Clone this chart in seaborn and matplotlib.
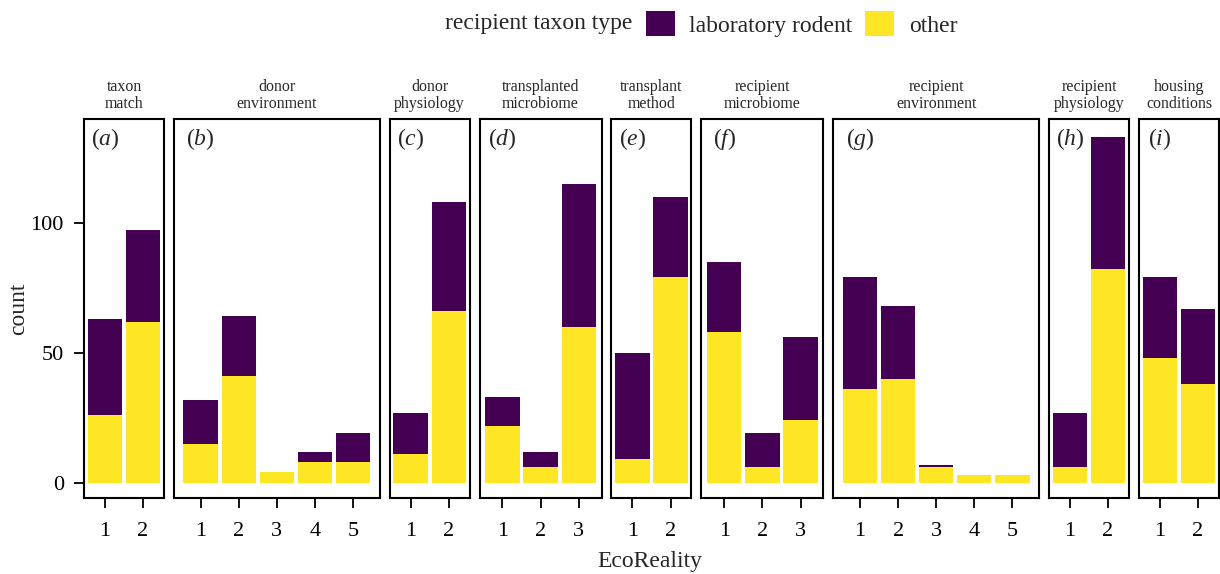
import matplotlib
matplotlib.use("Agg")
import matplotlib.pyplot as plt
import seaborn as sns
from matplotlib.patches import Patch

# ---- data -------------------------------------------------------------
strip_labels = ["taxon\nmatch", "donor\nenvironment", "donor\nphysiology",
                "transplanted\nmicrobiome", "transplant\nmethod",
                "recipient\nmicrobiome", "recipient\nenvironment",
                "recipient\nphysiology", "housing\nconditions"]
panel_tags = ["a", "b", "c", "d", "e", "f", "g", "h", "i"]

other_counts = [
    [26, 62],
    [15, 41, 4, 8, 8],
    [11, 66],
    [22, 6, 60],
    [9, 79],
    [58, 6, 24],
    [36, 40, 6, 3, 3],
    [6, 82],
    [48, 38],
]
rodent_counts = [
    [37, 35],
    [17, 23, 0, 4, 11],
    [16, 42],
    [11, 6, 55],
    [41, 31],
    [27, 13, 32],
    [43, 28, 1, 0, 0],
    [21, 51],
    [31, 29],
]
y_ticks = [0, 50, 100]
legend_title = "recipient taxon type"
legend_labels = ["laboratory rodent", "other"]

# ---- style ------------------------------------------------------------
RODENT = "#440154"
OTHER = "#FDE725"

sns.set_theme(style="white")
plt.rcParams["font.family"] = ["Liberation Serif", "DejaVu Serif"]
plt.rcParams["mathtext.fontset"] = "custom"
plt.rcParams["mathtext.rm"] = "Liberation Serif"
plt.rcParams["mathtext.it"] = "Liberation Serif:italic"

W, H = 1220, 574
fig = plt.figure(figsize=(W / 100, H / 100), dpi=100)

unit = 38.1          # pixels per category step
gap = 9.95           # pixels between panels
x_px = 84.0
ax_bottom, ax_height = 76.0, 379.0
ylim = (-5.8, 139.8)

for k, (label, tag, oth, rod) in enumerate(zip(strip_labels, panel_tags,
                                                other_counts, rodent_counts)):
    n = len(oth)
    pad = 0.5 + 0.05 * (n - 1)
    width_px = ((n - 1) + 2 * pad) * unit
    ax = fig.add_axes([x_px / W, ax_bottom / H, width_px / W, ax_height / H])
    x_px += width_px + gap

    levels = [str(i + 1) for i in range(n)]
    totals = [o + r for o, r in zip(oth, rod)]
    sns.barplot(x=levels, y=totals, order=levels, color=RODENT, saturation=1,
                width=0.9, linewidth=0, errorbar=None, ax=ax)
    sns.barplot(x=levels, y=oth, order=levels, color=OTHER, saturation=1,
                width=0.9, linewidth=0, errorbar=None, ax=ax)

    ax.set_xlim(-pad, n - 1 + pad)
    ax.set_ylim(*ylim)
    ax.set_xlabel("")
    ax.set_ylabel("")
    ax.set_yticks(y_ticks)
    for side in ax.spines.values():
        side.set_visible(True)
        side.set_color("black")
        side.set_linewidth(1.5)
    ax.tick_params(axis="x", which="both", bottom=True, length=7.5, width=1.3,
                   pad=10, labelsize=16, colors="black")
    if k == 0:
        ax.tick_params(axis="y", left=True, length=7.5, width=1.3, pad=7,
                       labelsize=16, colors="black")
    else:
        ax.tick_params(axis="y", left=False, labelleft=False)

    ax.text(0, 132.0, f"$({tag})$", ha="center", va="center", fontsize=17)
    ax.text(0.5, 1 + 7 / ax_height, label, transform=ax.transAxes,
            ha="center", va="bottom", fontsize=11.4, linespacing=1.1)

fig.text(19 / W, 1 - 309 / H, "count", rotation=90, ha="center",
         va="center", fontsize=17)
fig.text(650 / W, 1 - 562 / H, "EcoReality", ha="center", va="center",
         fontsize=17)

# legend along the top, title on the left
fig.text(632 / W, 1 - 24 / H, legend_title, ha="right", va="center",
         fontsize=17)
handles = [Patch(facecolor=RODENT, edgecolor="none"),
           Patch(facecolor=OTHER, edgecolor="none")]
fig.legend(handles, legend_labels, ncol=2, loc="center left",
           bbox_to_anchor=(646 / W, 1 - 24 / H), frameon=False, fontsize=17,
           handlelength=1.23, handleheight=1.23, handletextpad=0.6,
           columnspacing=0.55, borderaxespad=0, borderpad=0)

fig.savefig("out.png", dpi=100)
